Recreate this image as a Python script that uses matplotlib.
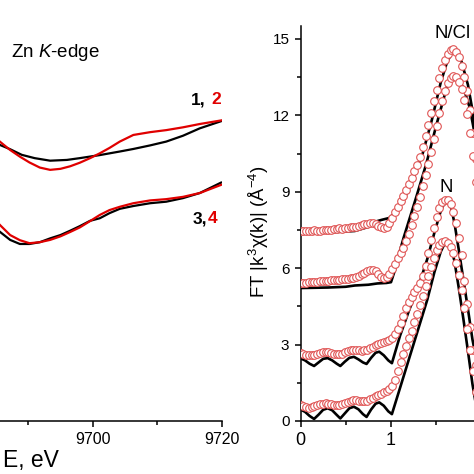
import numpy as np
import matplotlib
matplotlib.use('Agg')
import matplotlib.pyplot as plt
from matplotlib.ticker import MultipleLocator, FixedLocator

plt.rcParams['font.family'] = ['Liberation Sans', 'DejaVu Sans']
plt.rcParams['mathtext.fontset'] = 'custom'
plt.rcParams['mathtext.rm'] = 'Liberation Sans'
plt.rcParams['mathtext.it'] = 'Liberation Sans:italic'

# ---- left panel: Zn K-edge XANES (arbitrary offset units) ----
e_1 = [9684.0, 9685.6, 9687.2, 9689.0, 9691.0, 9693.4, 9696.0, 9698.0, 9701.1,
       9704.2, 9706.3, 9708.9, 9711.4, 9714.0, 9716.6, 9719.9]
mu_1 = [11.10, 10.84, 10.67, 10.45, 10.32, 10.22, 10.25, 10.32, 10.44,
        10.58, 10.68, 10.82, 10.97, 11.20, 11.49, 11.77]

e_2 = [9684.0, 9685.6, 9687.2, 9688.7, 9690.2, 9691.8, 9693.4, 9695.0, 9696.5, 9698.0,
       9699.6, 9701.1, 9702.6, 9704.2, 9706.3, 9708.9, 9711.4, 9714.0, 9716.6, 9719.9]
mu_2 = [11.35, 10.97, 10.64, 10.38, 10.15, 9.95, 9.86, 9.90, 10.00, 10.14,
        10.32, 10.51, 10.72, 10.97, 11.23, 11.34, 11.42, 11.53, 11.66, 11.80]

e_34 = [9684.0, 9685.6, 9687.2, 9688.7, 9690.2, 9691.8, 9693.4, 9695.0, 9696.5, 9698.0,
        9699.6, 9701.1, 9702.6, 9704.2, 9706.3, 9708.9, 9711.4, 9714.0, 9716.6, 9719.9]
mu_3 = [7.80, 7.43, 7.11, 6.95, 6.95, 7.02, 7.17, 7.30, 7.47, 7.65,
        7.86, 7.96, 8.16, 8.33, 8.44, 8.55, 8.61, 8.75, 8.95, 9.36]
mu_4 = [8.15, 7.70, 7.30, 7.10, 6.98, 7.02, 7.11, 7.25, 7.42, 7.60,
        7.85, 8.09, 8.28, 8.41, 8.55, 8.66, 8.71, 8.80, 8.95, 9.27]

# ---- right panel: FT magnitudes, experiment (circles) on FFT grid ----
r_step = 0.0307
ft_1 = [7.46, 7.45, 7.44, 7.45, 7.47, 7.48, 7.47, 7.47, 7.49, 7.51,
        7.51, 7.50, 7.52, 7.55, 7.56, 7.55, 7.56, 7.59, 7.61, 7.60,
        7.62, 7.66, 7.70, 7.72, 7.75, 7.76, 7.76, 7.73, 7.67, 7.61,
        7.58, 7.63, 7.78, 7.98, 8.20, 8.42, 8.63, 8.84, 9.06, 9.30,
        9.55, 9.80, 10.07, 10.38, 10.75, 11.17, 11.62, 12.08, 12.55, 13.00,
        13.45, 13.85, 14.18, 14.42, 14.57, 14.60, 14.50, 14.28, 13.95, 13.50,
        12.95, 12.20, 11.30, 10.30]
ft_2 = [5.42, 5.41, 5.43, 5.45, 5.46, 5.45, 5.47, 5.49, 5.50, 5.49,
        5.50, 5.53, 5.55, 5.54, 5.55, 5.57, 5.59, 5.58, 5.60, 5.63,
        5.66, 5.70, 5.76, 5.82, 5.88, 5.92, 5.93, 5.88, 5.78, 5.66,
        5.60, 5.64, 5.78, 5.98, 6.18, 6.38, 6.58, 6.80, 7.05, 7.35,
        7.68, 8.03, 8.40, 8.80, 9.22, 9.65, 10.10, 10.58, 11.08, 11.58,
        12.08, 12.55, 12.95, 13.27, 13.48, 13.56, 13.50, 13.32, 13.02, 12.60,
        12.05, 11.30, 10.40, 9.40]
ft_3 = [2.66, 2.63, 2.60, 2.58, 2.59, 2.61, 2.64, 2.67, 2.69, 2.70,
        2.69, 2.67, 2.64, 2.63, 2.63, 2.65, 2.69, 2.73, 2.77, 2.79,
        2.79, 2.77, 2.76, 2.77, 2.80, 2.85, 2.91, 2.97, 3.02, 3.06,
        3.10, 3.14, 3.18, 3.27, 3.42, 3.62, 3.86, 4.14, 4.42, 4.67,
        4.88, 5.05, 5.22, 5.40, 5.70, 6.10, 6.58, 7.10, 7.58, 8.00,
        8.35, 8.58, 8.68, 8.66, 8.52, 8.22, 7.78, 7.20, 6.50, 5.50,
        4.60, 3.70, 2.80, 2.20]
ft_4 = [0.62, 0.58, 0.55, 0.53, 0.54, 0.57, 0.61, 0.65, 0.68, 0.69,
        0.68, 0.65, 0.63, 0.62, 0.63, 0.66, 0.70, 0.75, 0.79, 0.81,
        0.81, 0.79, 0.77, 0.77, 0.80, 0.85, 0.91, 0.97, 1.02, 1.07,
        1.12, 1.18, 1.25, 1.38, 1.62, 1.95, 2.30, 2.64, 2.95, 3.25,
        3.55, 3.87, 4.20, 4.55, 4.92, 5.30, 5.68, 6.05, 6.40, 6.70,
        6.92, 7.04, 7.06, 7.00, 6.84, 6.58, 6.22, 5.75, 5.15, 4.42,
        3.62, 2.78, 1.95, 1.15]
r_pts = np.arange(len(ft_1)) * r_step

# ---- fits (solid black lines) ----
r_fit_12 = [0.00, 0.20, 0.40, 0.60, 0.75, 0.80, 0.90, 0.98, 1.05, 1.15, 1.25, 1.35,
            1.45, 1.55, 1.62, 1.68, 1.72, 1.78, 1.85, 1.90, 1.95]
fit_1 = [7.40, 7.41, 7.42, 7.46, 7.62, 7.80, 7.90, 7.97, 8.20, 8.75, 9.55, 10.50,
         11.80, 13.30, 14.10, 14.50, 14.50, 14.10, 13.20, 12.20, 11.00]
r_fit_2 = [0.00, 0.30, 0.50, 0.60, 0.75, 0.85, 0.95, 1.00, 1.05, 1.10, 1.14, 1.21,
           1.28, 1.39, 1.50, 1.62, 1.70, 1.80, 1.87, 1.95]
fit_2 = [5.22, 5.24, 5.27, 5.32, 5.35, 5.40, 5.42, 5.45, 6.00, 6.70, 7.20, 8.00,
         8.80, 10.10, 11.60, 13.15, 13.58, 13.10, 12.30, 10.80]
r_fit_34 = [0.00, 0.05, 0.10, 0.15, 0.20, 0.25, 0.30, 0.35, 0.40, 0.44, 0.49, 0.54,
            0.59, 0.64, 0.69, 0.73, 0.78, 0.83, 0.87, 0.92, 0.97, 1.01, 1.10, 1.20,
            1.30, 1.40, 1.48, 1.55, 1.60, 1.65, 1.70, 1.75, 1.80, 1.85, 1.90, 1.95]
fit_3 = [2.46, 2.38, 2.25, 2.16, 2.30, 2.44, 2.47, 2.38, 2.25, 2.16, 2.33, 2.48,
         2.52, 2.42, 2.30, 2.24, 2.48, 2.68, 2.72, 2.58, 2.38, 2.27, 3.35, 4.35,
         5.25, 6.35, 7.40, 8.25, 8.65, 8.60, 7.80, 6.70, 5.55, 4.40, 3.20, 2.30]
fit_4 = [0.45, 0.36, 0.20, 0.08, 0.25, 0.44, 0.50, 0.42, 0.24, 0.10, 0.30, 0.50,
         0.56, 0.46, 0.27, 0.16, 0.45, 0.68, 0.73, 0.60, 0.38, 0.27, 1.30, 2.45,
         3.60, 4.75, 5.85, 6.65, 7.02, 7.00, 6.30, 5.20, 4.00, 2.75, 1.45, 0.40]

W = 474.0
fig = plt.figure(figsize=(4.74, 4.74), dpi=100)

def px_box(left, right, top, bottom):
    return [left / W, 1 - bottom / W, (right - left) / W, (bottom - top) / W]

red = '#e00000'

# left panel
ax1 = fig.add_axes(px_box(-165.3, 221.7, 26.2, 421.0))
ax1.plot(e_1, mu_1, color='black', lw=1.6)
ax1.plot(e_2, mu_2, color=red, lw=1.6)
ax1.plot(e_34, mu_3, color='black', lw=1.6)
ax1.plot(e_34, mu_4, color=red, lw=1.6)
ax1.set_xlim(9660, 9720)
ax1.set_ylim(0, 15.5)
ax1.set_yticks([])
for s in ['top', 'right', 'left']:
    ax1.spines[s].set_visible(False)
ax1.xaxis.set_major_locator(FixedLocator([9700, 9720]))
ax1.xaxis.set_minor_locator(FixedLocator([9670, 9680, 9690, 9710]))
fig.text(3 / W, 1 - 467.3 / W, 'E, eV', fontsize=16.5, ha='left', va='baseline')

# right panel
ax2 = fig.add_axes(px_box(300.5, 662.5, 26.2, 421.0))
ax2.plot(r_fit_12, fit_1, color='black', lw=1.9, zorder=2)
ax2.plot(r_fit_2, fit_2, color='black', lw=1.9, zorder=2)
ax2.plot(r_fit_34, fit_3, color='black', lw=1.9, zorder=2)
ax2.plot(r_fit_34, fit_4, color='black', lw=1.9, zorder=2)
for ft in [ft_1, ft_2, ft_3, ft_4]:
    ax2.plot(r_pts, ft, ls='none', marker='o', ms=5.5, mfc='white',
             mec='#e05555', mew=0.8, zorder=3)
ax2.set_xlim(0, 4)
ax2.set_ylim(0, 15.5)
for s in ['top', 'right']:
    ax2.spines[s].set_visible(False)
ax2.xaxis.set_major_locator(FixedLocator([0, 1]))
ax2.xaxis.set_minor_locator(FixedLocator([0.5, 1.5]))
ax2.yaxis.set_major_locator(MultipleLocator(3))
ax2.yaxis.set_minor_locator(MultipleLocator(1.5))
ax2.tick_params(axis='y', labelsize=11)
ax2.tick_params(axis='x', labelsize=13)

for ax in [ax1, ax2]:
    for s in ['bottom', 'left']:
        ax.spines[s].set_linewidth(1.1)
    ax.tick_params(which='major', direction='out', length=4.5, width=1.1, pad=3.5)
    ax.tick_params(which='minor', direction='out', length=2.8, width=1.1)
ax1.tick_params(axis='x', labelsize=11.5)

fig.text(258.5 / W, 1 - 231.5 / W, r'FT |k$^{3}$χ(k)| (Å$^{-4}$)',
         rotation=90, ha='center', va='center', fontsize=13.4)

# annotations
fig.text(11 / W, 1 - 56.7 / W, r'Zn $K$-edge', fontsize=13.5, ha='left', va='baseline')
fig.text(206 / W, 1 - 104.3 / W, '1,', fontsize=12.5, fontweight='bold', ha='right', va='baseline')
fig.text(211.5 / W, 1 - 104.3 / W, '2', fontsize=12.5, fontweight='bold', color=red,
         ha='left', va='baseline')
fig.text(207.5 / W, 1 - 223.3 / W, '3,', fontsize=12.5, fontweight='bold', ha='right', va='baseline')
fig.text(208 / W, 1 - 223.3 / W, '4', fontsize=12.5, fontweight='bold', color=red,
         ha='left', va='baseline')
fig.text(435 / W, 1 - 38.3 / W, 'N/Cl', fontsize=13.4, ha='left', va='baseline')
fig.text(439.3 / W, 1 - 191.7 / W, 'N', fontsize=13.4, ha='left', va='baseline')

fig.savefig('out.png', dpi=100)
